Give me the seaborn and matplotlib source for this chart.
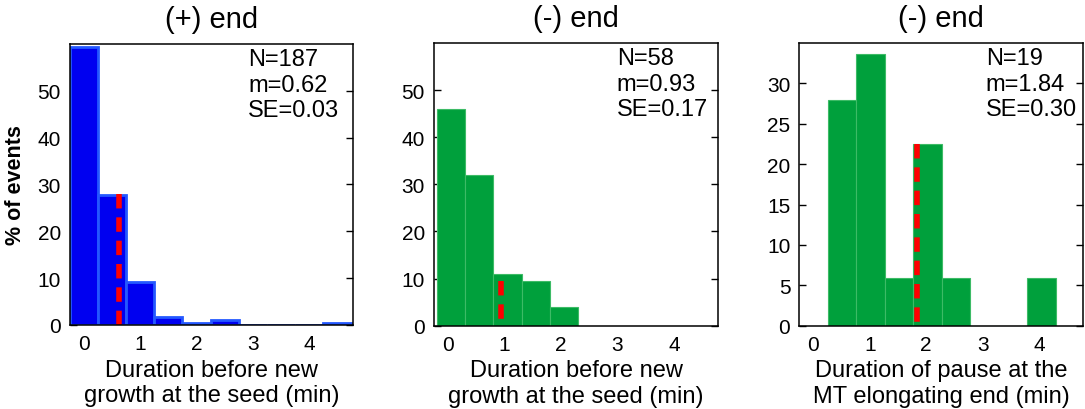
import numpy as np
import seaborn as sns
import matplotlib
matplotlib.use('Agg')
import matplotlib.pyplot as plt

# данные гистограмм: центры бинов, проценты, границы бинов
titles = ['(+) end', '(-) end', '(-) end']
xlabels = ['Duration before new\ngrowth at the seed (min)',
           'Duration before new\ngrowth at the seed (min)',
           'Duration of pause at the\nMT elongating end (min)']

plus_centers = [0.0, 0.5, 1.0, 1.5, 2.0, 2.5, 4.5]
plus_pct = [59.4, 27.8, 9.1, 1.6, 0.5, 1.1, 0.5]
plus_edges = [-0.25, 0.25, 0.75, 1.25, 1.75, 2.25, 2.75, 3.25, 3.75, 4.25, 4.75]

minus_centers = [0.05, 0.55, 1.05, 1.55, 2.05]
minus_pct = [46.0, 32.0, 11.0, 9.4, 3.9]
minus_edges = [-0.2, 0.3, 0.8, 1.3, 1.8, 2.3]

pause_centers = [0.50, 1.01, 1.52, 2.02, 2.53, 4.05]
pause_pct = [28.0, 33.6, 5.9, 22.5, 5.9, 5.9]
pause_edges = [0.25, 0.756, 1.262, 1.769, 2.275, 2.781, 3.287, 3.794, 4.30]

stats_n = [187, 58, 19]
stats_m = [0.62, 0.93, 1.84]
stats_se = [0.03, 0.17, 0.30]
mean_line_top = [28.0, 9.5, 22.5]

y_max = [60, 60, 35]
y_ticks = [[0, 10, 20, 30, 40, 50], [0, 10, 20, 30, 40, 50], [0, 5, 10, 15, 20, 25, 30]]

sns.set_theme(style='white')
plt.rcParams['font.family'] = ['Liberation Sans', 'DejaVu Sans']
plt.rcParams['text.color'] = 'black'
plt.rcParams['axes.labelcolor'] = 'black'

fig = plt.figure(figsize=(10.85, 4.10), dpi=100)
boxes = [[0.0645, 0.2049, 0.2608, 0.6854],
         [0.4000, 0.2032, 0.2618, 0.6895],
         [0.7367, 0.2032, 0.2615, 0.6895]]
text_x = [0.629, 0.644, 0.657]

data = [(plus_centers, plus_pct, plus_edges, '#0000F0', '#2458FF', 2.0),
        (minus_centers, minus_pct, minus_edges, '#00A03C', '#3DBB66', 0.8),
        (pause_centers, pause_pct, pause_edges, '#00A03C', '#3DBB66', 0.8)]

for i in range(3):
    ax = fig.add_axes(boxes[i])
    centers, pct, edges, fc, ec, elw = data[i]
    sns.histplot(x=centers, weights=pct, bins=edges, ax=ax,
                 color=fc, edgecolor=ec, linewidth=elw, alpha=1)
    # линия среднего (сверху вниз, чтобы штрих начинался у вершины)
    ax.plot([stats_m[i], stats_m[i]], [mean_line_top[i], 0], color='red',
            lw=4, linestyle=(0, (2.6, 1.6)), solid_capstyle='butt', zorder=5)
    ax.set_xlim(-0.25, 4.78)
    ax.set_ylim(0, y_max[i])
    ax.set_xticks([0, 1, 2, 3, 4])
    ax.set_yticks(y_ticks[i])
    ax.tick_params(axis='y', which='both', direction='in', length=5, width=1,
                   left=True, right=True, labelsize=15, pad=6.5, colors='black')
    ax.tick_params(axis='x', length=0, labelsize=15, pad=6.5, colors='black')
    for s in ax.spines.values():
        s.set_color('black')
        s.set_linewidth(1.1)
        s.set_zorder(6)
    ax.set_title(titles[i], fontsize=21, pad=12, color='black')
    ax.set_xlabel(xlabels[i], fontsize=17, labelpad=4)
    if i == 0:
        ax.set_ylabel('% of events', fontsize=15.5, fontweight='bold', labelpad=8)
    else:
        ax.set_ylabel('')
    ax.text(text_x[i], 0.985, 'N=%d\nm=%.2f\nSE=%.2f' % (stats_n[i], stats_m[i], stats_se[i]),
            transform=ax.transAxes, ha='left', va='top', fontsize=17, zorder=7)

plt.savefig('out.png', dpi=100)
